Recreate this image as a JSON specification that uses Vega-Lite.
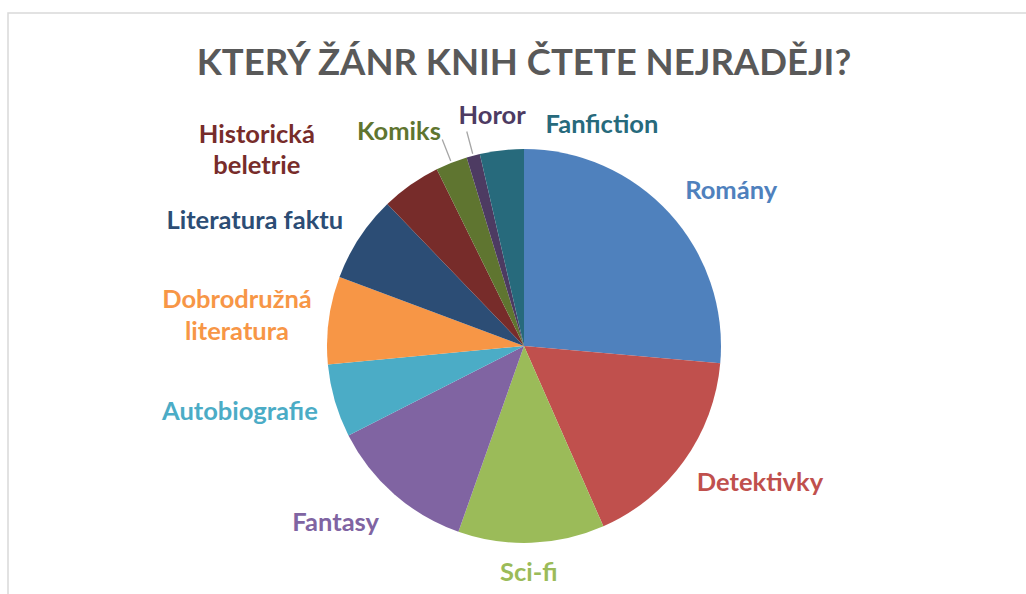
{
  "$schema": "https://vega.github.io/schema/vega-lite/v6.json",
  "width": 1032,
  "height": 666,
  "autosize": {"type": "none"},
  "padding": {"left": 8, "top": 13, "right": 0, "bottom": 0},
  "background": "white",
  "view": {"stroke": "#D9D9D9", "strokeWidth": 1.5},
  "config": {"view": {"stroke": "#D9D9D9", "strokeWidth": 1.5}, "font": "Lato"},
  "title": {"text": "KTERÝ ŽÁNR KNIH ČTETE NEJRADĚJI?", "font": "Lato", "fontSize": 36.5, "fontWeight": "bold", "color": "#595959", "anchor": "middle", "frame": "group", "baseline": "alphabetic", "offset": -98},
  "data": {"values": [
    {"zanr": "Romány", "podil": 26.4, "poradi": 1},
    {"zanr": "Detektivky", "podil": 17.0, "poradi": 2},
    {"zanr": "Sci-fi", "podil": 12.0, "poradi": 3},
    {"zanr": "Fantasy", "podil": 12.1, "poradi": 4},
    {"zanr": "Autobiografie", "podil": 6.0, "poradi": 5},
    {"zanr": "Dobrodružná literatura", "podil": 7.2, "poradi": 6},
    {"zanr": "Literatura faktu", "podil": 7.1, "poradi": 7},
    {"zanr": "Historická beletrie", "podil": 4.9, "poradi": 8},
    {"zanr": "Komiks", "podil": 2.6, "poradi": 9},
    {"zanr": "Horor", "podil": 1.1, "poradi": 10},
    {"zanr": "Fanfiction", "podil": 3.6, "poradi": 11}
  ]},
  "encoding": {
    "theta": {"field": "podil", "type": "quantitative", "stack": true},
    "order": {"field": "poradi", "type": "quantitative", "sort": "ascending"},
    "color": {"field": "zanr", "type": "nominal", "legend": null,
      "scale": {"domain": ["Romány", "Detektivky", "Sci-fi", "Fantasy", "Autobiografie", "Dobrodružná literatura", "Literatura faktu", "Historická beletrie", "Komiks", "Horor", "Fanfiction"],
                "range": ["#4F81BD", "#C0504D", "#9BBB59", "#8064A2", "#4BACC6", "#F79646", "#2C4D75", "#772C2A", "#5F7530", "#4D3B62", "#276A7C"]}}
  },
  "layer": [
    {"mark": {"type": "arc", "outerRadius": 197}},
    {"mark": {"type": "arc", "radius": 222, "radius2": 199, "padAngle": 0.5, "fillOpacity": 0, "stroke": "#A6A6A6", "strokeWidth": 1.3},
     "encoding": {"strokeOpacity": {"condition": {"test": "datum.zanr === 'Komiks' || datum.zanr === 'Horor'", "value": 1}, "value": 0}}},
    {"mark": {"type": "text", "radius": 258.6, "thetaOffset": 0.0995, "fontSize": 25.5, "fontWeight": "bold", "baseline": "middle"},
     "encoding": {"text": {"condition": {"test": "datum.zanr === 'Romány'", "field": "zanr"}, "value": ""}}},
    {"mark": {"type": "text", "radius": 272.9, "thetaOffset": -0.096, "fontSize": 25.5, "fontWeight": "bold", "baseline": "middle"},
     "encoding": {"text": {"condition": {"test": "datum.zanr === 'Detektivky'", "field": "zanr"}, "value": ""}}},
    {"mark": {"type": "text", "radius": 227, "thetaOffset": 0.017, "fontSize": 25.5, "fontWeight": "bold", "baseline": "middle"},
     "encoding": {"text": {"condition": {"test": "datum.zanr === 'Sci-fi'", "field": "zanr"}, "value": ""}}},
    {"mark": {"type": "text", "radius": 258.2, "thetaOffset": 0.098, "fontSize": 25.5, "fontWeight": "bold", "baseline": "middle"},
     "encoding": {"text": {"condition": {"test": "datum.zanr === 'Fantasy'", "field": "zanr"}, "value": ""}}},
    {"mark": {"type": "text", "radius": 291.6, "thetaOffset": 0.056, "fontSize": 25.5, "fontWeight": "bold", "baseline": "middle"},
     "encoding": {"text": {"condition": {"test": "datum.zanr === 'Autobiografie'", "field": "zanr"}, "value": ""}}},
    {"mark": {"type": "text", "radius": 288.6, "thetaOffset": -0.027, "fontSize": 25.5, "fontWeight": "bold", "baseline": "middle", "lineBreak": " ", "lineHeight": 32, "dy": -16},
     "encoding": {"text": {"condition": {"test": "datum.zanr === 'Dobrodružná literatura'", "field": "zanr"}, "value": ""}}},
    {"mark": {"type": "text", "radius": 296.6, "thetaOffset": -0.148, "fontSize": 25.5, "fontWeight": "bold", "baseline": "middle"},
     "encoding": {"text": {"condition": {"test": "datum.zanr === 'Literatura faktu'", "field": "zanr"}, "value": ""}}},
    {"mark": {"type": "text", "radius": 331.2, "thetaOffset": -0.326, "fontSize": 25.5, "fontWeight": "bold", "baseline": "middle", "lineBreak": " ", "lineHeight": 31, "dy": -15.5},
     "encoding": {"text": {"condition": {"test": "datum.zanr === 'Historická beletrie'", "field": "zanr"}, "value": ""}}},
    {"mark": {"type": "text", "radius": 247.8, "thetaOffset": -0.152, "fontSize": 25.5, "fontWeight": "bold", "baseline": "middle"},
     "encoding": {"text": {"condition": {"test": "datum.zanr === 'Komiks'", "field": "zanr"}, "value": ""}}},
    {"mark": {"type": "text", "radius": 232.2, "thetaOffset": 0.123, "fontSize": 25.5, "fontWeight": "bold", "baseline": "middle"},
     "encoding": {"text": {"condition": {"test": "datum.zanr === 'Horor'", "field": "zanr"}, "value": ""}}},
    {"mark": {"type": "text", "radius": 234.4, "thetaOffset": 0.452, "fontSize": 25.5, "fontWeight": "bold", "baseline": "middle"},
     "encoding": {"text": {"condition": {"test": "datum.zanr === 'Fanfiction'", "field": "zanr"}, "value": ""}}}
  ]
}
